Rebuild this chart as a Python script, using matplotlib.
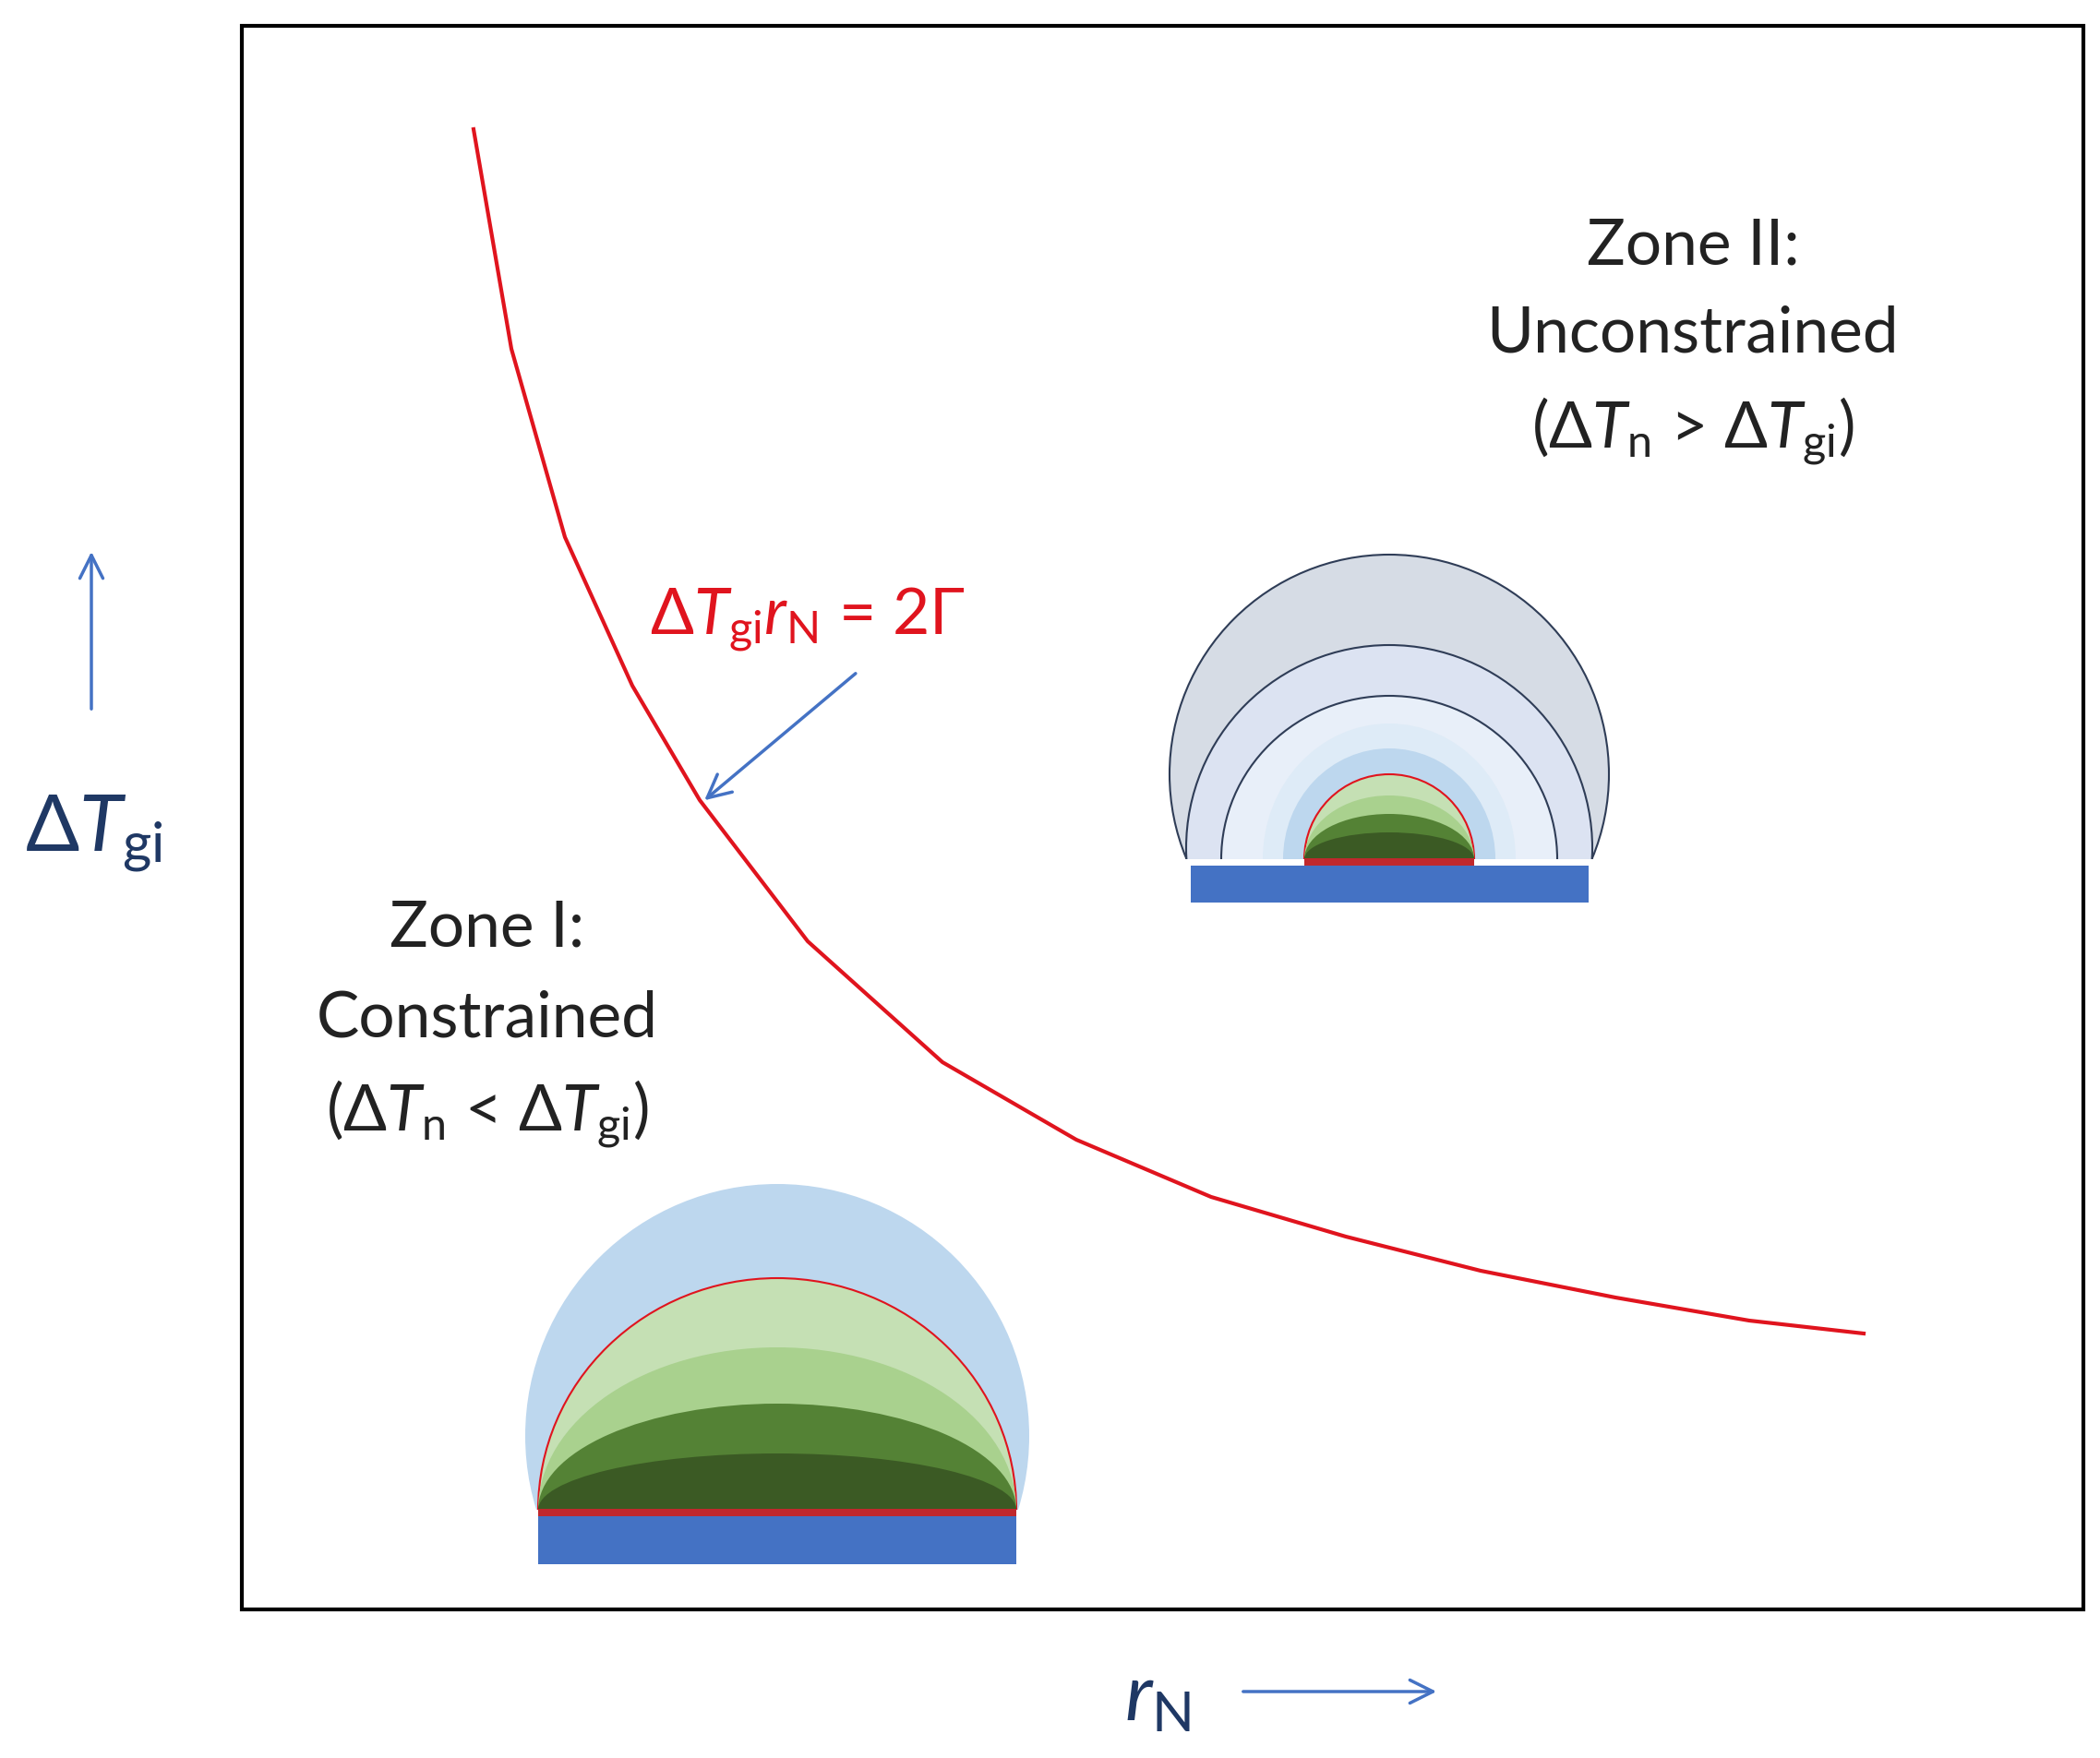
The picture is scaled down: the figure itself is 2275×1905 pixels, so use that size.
import matplotlib
matplotlib.use("Agg")
import matplotlib.pyplot as plt
from matplotlib.patches import Ellipse, Rectangle, FancyArrowPatch

plt.rcParams['mathtext.fontset'] = 'custom'
plt.rcParams['mathtext.rm'] = 'Lato'
plt.rcParams['mathtext.it'] = 'Lato:italic'
plt.rcParams['font.family'] = ['Lato', 'DejaVu Sans']

# red boundary curve dT_gi * r_N = 2 Gamma (pixel coords)
curve_x = [513, 554, 612, 685, 758, 875, 1021, 1166, 1312, 1458, 1604, 1750, 1895, 2019]
curve_y = [141, 379, 583, 744, 868, 1021, 1152, 1236, 1298, 1341, 1378, 1407, 1432, 1446]

# Zone I nucleus: green layers (half-width, height)
z1_green_h = [251, 176, 115, 61]
z1_green_c = ['#C5E0B4', '#A9D18E', '#548235', '#3B5A24']
# Zone II nucleus
z2_green_h = [92, 69, 49, 29]
z2_rings = [(238, 238, -92, '#D6DCE5'), (220, 220, -12, '#DCE3F2'), (182, 177, 0, '#E8EFF9'),
            (137, 147, 0, '#DEEBF7'), (115, 120, 0, '#BDD7EE')]

W, H = 2275, 1906
fig = plt.figure(figsize=(W/100, H/100), dpi=100)
ax = fig.add_axes([0, 0, 1, 1])
ax.set_xlim(0, W); ax.set_ylim(H, 0); ax.axis('off')

ax.add_patch(Rectangle((262, 29), 1995, 1716, fill=False, ec='black', lw=3))
ax.plot(curve_x, curve_y, color='#E0141E', lw=3)

def nucleus(cx, base, hw, greens, rings, sub_w, sub_h):
    clip = Rectangle((cx - 400, base - 400), 800, 400, transform=ax.transData)
    for rx, ry, dy, col in rings:
        lw = 1.5 if col in ('#D6DCE5', '#DCE3F2', '#E8EFF9', '#BDD7EEo') else 0
        e = Ellipse((cx, base + dy), 2*rx, 2*ry, fc=col, ec='#2F3D57' if lw else 'none', lw=lw)
        ax.add_patch(e); e.set_clip_path(clip)
    for i, (h, col) in enumerate(zip(greens, z1_green_c)):
        e = Ellipse((cx, base), 2*hw, 2*h, fc=col, ec='#E0141E' if i == 0 else 'none', lw=1.5)
        ax.add_patch(e); e.set_clip_path(clip)
    ax.add_patch(Rectangle((cx - hw, base - 1), 2*hw, 8, fc='#C0282D', ec='none'))
    ax.add_patch(Rectangle((cx - sub_w/2, base + 7), sub_w, sub_h, fc='#4472C4', ec='none'))

nucleus(842, 1637, 259, z1_green_h, [(273, 273, -80, '#BDD7EE')], 518, 52)
nucleus(1505, 932, 92, z2_green_h, z2_rings, 431, 40)

fs = 50
for y, t in [(267, 'Zone II:'), (362, 'Unconstrained'), (467, r'($\Delta \mathit{T}_{\rm n}$ > $\Delta \mathit{T}_{\rm gi}$)')]:
    ax.text(1834, y, t, ha='center', va='center', fontsize=fs, color='#222222')
for y, t in [(1006, 'Zone I:'), (1104, 'Constrained'), (1207, r'($\Delta \mathit{T}_{\rm n}$ < $\Delta \mathit{T}_{\rm gi}$)')]:
    ax.text(528, y, t, ha='center', va='center', fontsize=fs, color='#222222')

ax.text(875, 671, r'$\Delta \mathit{T}_{\rm gi}\mathit{r}_{\rm N}$ = 2$\mathit{\Gamma}$', ha='center', va='center',
        fontsize=fs, color='#E0141E')
ax.add_patch(FancyArrowPatch((929, 729), (761, 870), arrowstyle='->,head_length=18,head_width=9',
                             color='#4472C4', lw=2.5))

ax.text(102, 904, r'$\Delta \mathit{T}_{\rm gi}$', ha='center', va='center', fontsize=62, color='#1F3864')
ax.add_patch(FancyArrowPatch((99, 772), (99, 596), arrowstyle='->,head_length=18,head_width=9',
                             color='#4472C4', lw=2.5))
ax.text(1254, 1840, r'$\mathit{r}_{\rm N}$', ha='center', va='center', fontsize=62, color='#1F3864')
ax.add_patch(FancyArrowPatch((1344, 1834), (1559, 1834), arrowstyle='->,head_length=18,head_width=9',
                             color='#4472C4', lw=2.5))

fig.savefig('out.png', dpi=100)
